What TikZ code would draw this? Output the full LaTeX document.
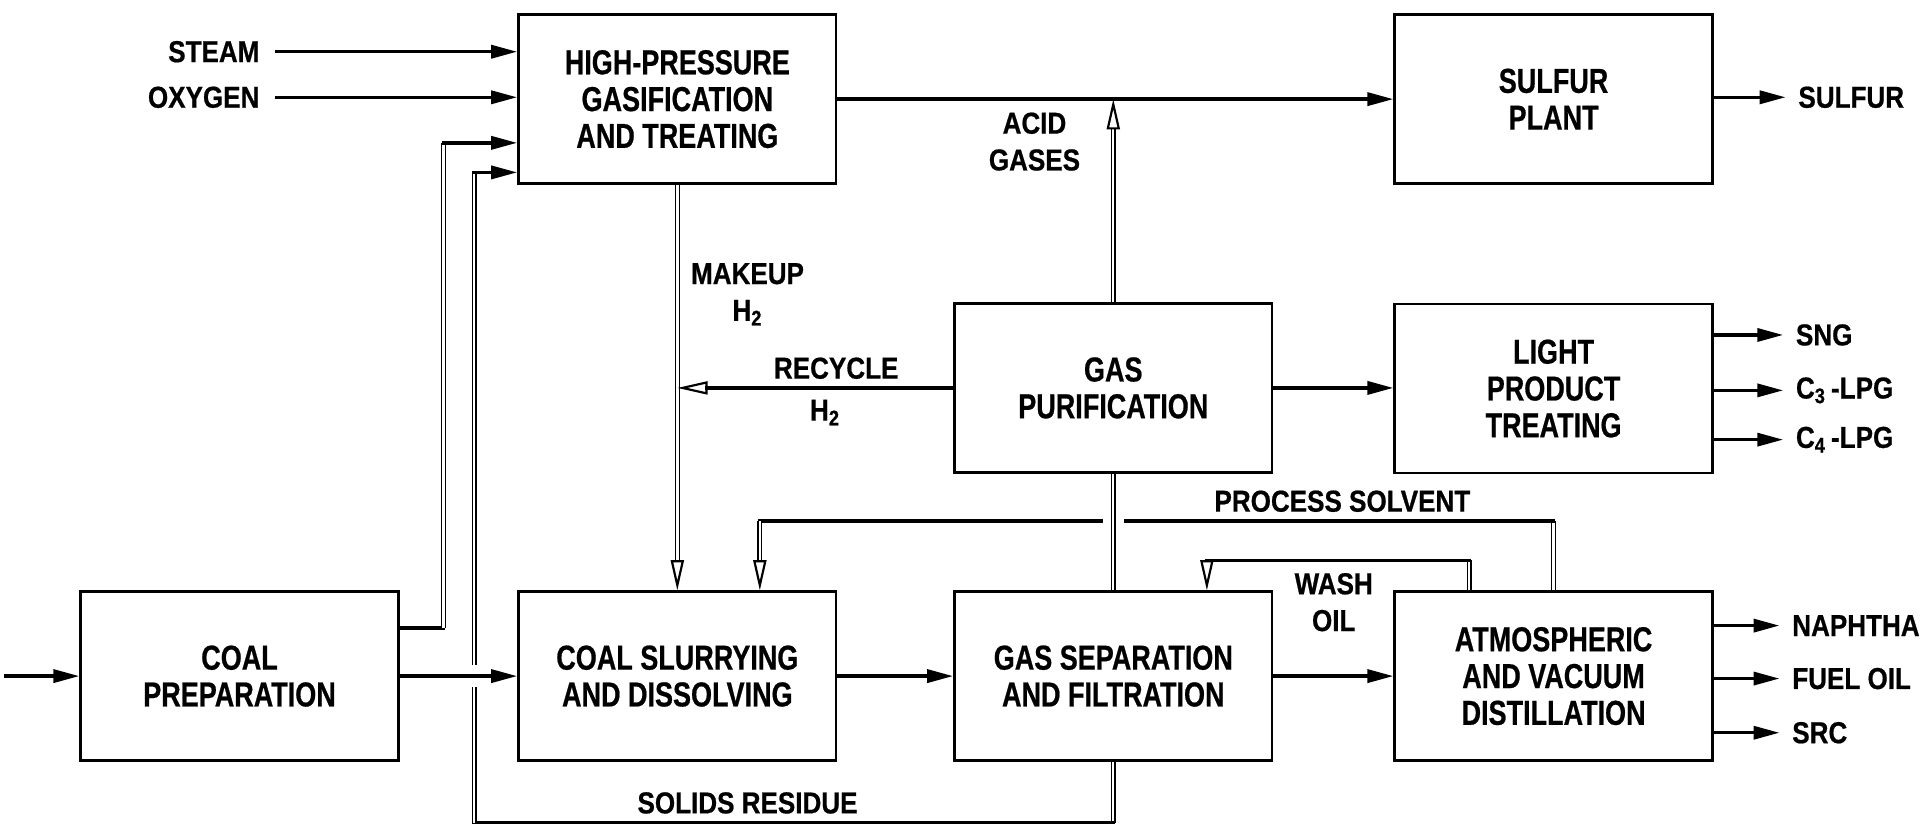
\documentclass[tikz,border=0pt]{standalone}
\usepackage{fontspec}
\setmainfont{Liberation Sans}
\newfontfamily\boxfont[FakeStretch=0.78,FakeBold=0.6]{Liberation Sans}
\newfontfamily\lblfont[FakeStretch=0.86,FakeBold=0.6]{Liberation Sans}
\usetikzlibrary{arrows.meta}
\begin{document}
\begin{tikzpicture}[x=0.02cm,y=-0.02cm,
  box/.style={draw, line width=1.2pt, minimum width=5.16cm, minimum height=2.74cm, align=center,
    font=\boxfont\bfseries\fontsize{16}{17}\selectfont, inner sep=0},
  lbl/.style={font=\lblfont\bfseries\fontsize{14}{17}\selectfont, inner sep=0, align=center},
  flow/.style={line width=1.6pt, line cap=rect},
  pipe/.style={double, line width=0.55pt, double distance=1.1pt},
  tipF/.style={-{Triangle[length=12pt,width=6pt]}},
  tipO/.style={-{Triangle[open,length=14pt,width=6pt,line width=1pt]}},
]
\useasboundingbox (0,0) rectangle (1568,672);

% boxes
\node[box] (hp) at (550,80.5) {HIGH-PRESSURE\\GASIFICATION\\AND TREATING};
\node[box] (sul) at (1261.5,80.5) {SULFUR\\PLANT};
\node[box] (gp) at (904,315) {GAS\\PURIFICATION};
\node[box] (lpt) at (1261.5,315.5) {LIGHT\\PRODUCT\\TREATING};
\node[box] (cp) at (194.5,549) {COAL\\PREPARATION};
\node[box] (cs) at (550,549) {COAL SLURRYING\\AND DISSOLVING};
\node[box] (gs) at (904,549) {GAS SEPARATION\\AND FILTRATION};
\node[box] (avd) at (1261.5,549) {ATMOSPHERIC\\AND VACUUM\\DISTILLATION};

% labels
\node[lbl, anchor=east] (steam) at (211,42) {STEAM};
\node[lbl, anchor=east] (oxy) at (211,79) {OXYGEN};
\node[lbl] (acid) at (840,115) {ACID\\GASES};
\node[lbl] (makeup) at (607,239) {MAKEUP\\H\textsubscript{2}};
\node[lbl] (recyc) at (679,299) {RECYCLE};
\node[lbl] (rech2) at (670,335) {H\textsubscript{2}};
\node[lbl] (solv) at (1090,407) {PROCESS SOLVENT};
\node[lbl] (wash) at (1083,489) {WASH\\OIL};
\node[lbl] (solids) at (607,652) {SOLIDS RESIDUE};
\node[lbl, anchor=west] (sulfur) at (1460,79) {SULFUR};
\node[lbl, anchor=west] (sng) at (1458,272) {SNG};
\node[lbl, anchor=west] (c3) at (1458,317) {C\textsubscript{3}\,-LPG};
\node[lbl, anchor=west] (c4) at (1458,357) {C\textsubscript{4}\,-LPG};
\node[lbl, anchor=west] (naph) at (1455,508) {NAPHTHA};
\node[lbl, anchor=west] (fuel) at (1455,551) {FUEL OIL};
\node[lbl, anchor=west] (src) at (1455,595) {SRC};

% inputs
\draw[flow,tipF] ([xshift=0.28cm]steam.east) -- (steam.east -| hp.west);
\draw[flow,tipF] ([xshift=0.28cm]oxy.east) -- (oxy.east -| hp.west);
\coordinate (in) at (5,549);
\draw[flow,tipF] (in) -- (cp.west);

% main flows
\draw[flow,tipF] (hp.east) -- (sul.west);
\draw[flow,tipF] (cp.east) -- (cs.west);
\draw[flow,tipF] (cs.east) -- (gs.west);
\draw[flow,tipF] (gs.east) -- (avd.west);
\draw[flow,tipF] (gp.east) -- (lpt.west |- gp.east);
\draw[pipe,tipO] (gp.north) -- (gp.north |- hp.east);
\draw[pipe,tipO] (hp.south) -- (cs.north);
\draw[flow,tipO] (gp.west) -- (gp.west -| hp.south);
\draw[pipe] (gs.north) -- (gp.south);

% outputs
\draw[flow,tipF] (sul.east |- sulfur.west) -- ([xshift=-0.2cm]sulfur.west);
\draw[flow,tipF] (lpt.east |- sng.west) -- ([xshift=-0.2cm]sng.west);
\draw[flow,tipF] (lpt.east |- c3.west) -- ([xshift=-0.2cm]c3.west);
\draw[flow,tipF] (lpt.east |- c4.west) -- ([xshift=-0.2cm]c4.west);
\draw[flow,tipF] (avd.east |- naph.west) -- ([xshift=-0.2cm]naph.west);
\draw[flow,tipF] (avd.east |- fuel.west) -- ([xshift=-0.2cm]fuel.west);
\draw[flow,tipF] (avd.east |- src.west) -- ([xshift=-0.2cm]src.west);

% coal preparation to gasifier
\coordinate (a1) at (360,510);
\coordinate (a2) at (360,116);
\draw[flow] (cp.east |- a1) -- (a1);
\draw[pipe] (a1) -- (a2);
\draw[flow,tipF] (a2) -- (hp.west |- a2);

% solids residue
\coordinate (s1) at (904,668);
\coordinate (s2) at (385,668);
\coordinate (s3) at (385,558);
\coordinate (s4) at (385,540);
\coordinate (s5) at (385,140);
\draw[pipe] (gs.south) -- (s1);
\draw[flow] (s1) -- (s2);
\draw[pipe] (s2) -- (s3);
\draw[pipe] (s4) -- (s5);
\draw[flow,tipF] (s5) -- (hp.west |- s5);

% process solvent
\coordinate (p1) at (1261.5,423);
\coordinate (p2) at (914,423);
\coordinate (p3) at (894,423);
\coordinate (p4) at (617,423);
\draw[pipe] (avd.north) -- (p1);
\draw[flow] (p1) -- (p2);
\draw[flow] (p3) -- (p4);
\draw[pipe,tipO] (p4) -- (cs.north -| p4);

% wash oil
\coordinate (w0) at (1193,455);
\coordinate (w1) at (980,455);
\draw[pipe] (avd.north -| w0) -- (w0);
\draw[flow] (w0) -- (w1);
\draw[pipe,tipO] (w1) -- (gs.north -| w1);
\end{tikzpicture}
\end{document}
